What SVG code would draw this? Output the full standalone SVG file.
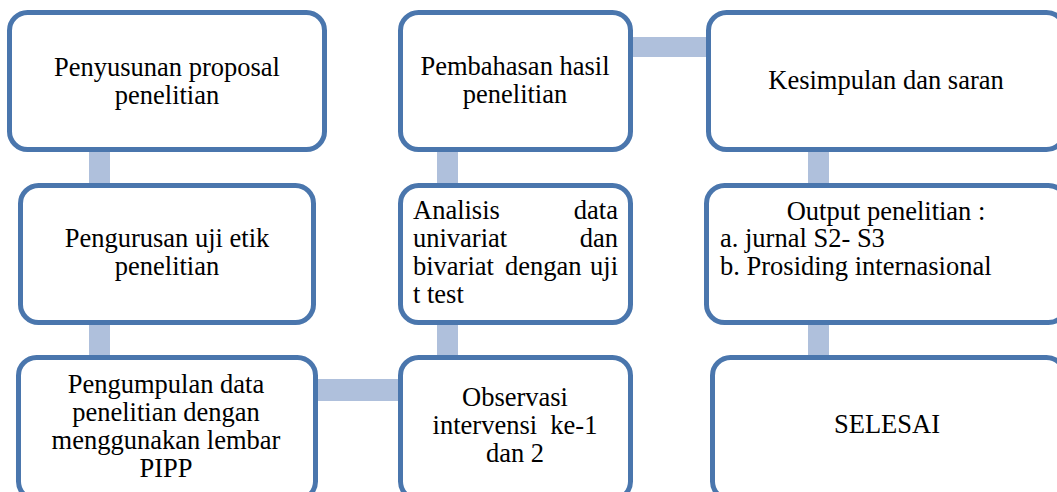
<svg xmlns="http://www.w3.org/2000/svg" width="1057" height="492" viewBox="0 0 1057 492">
<style>
.box{fill:#ffffff;stroke:#4a76ad;stroke-width:5}
.con{fill:#afc0dc}
text{font-family:"Liberation Serif","Times New Roman",serif;font-size:26.5px;fill:#000}
.c{text-anchor:middle}
.e{text-anchor:end}
</style>
<rect width="1057" height="492" fill="#ffffff"/>
<g id="connectors">
<rect class="con" x="89" y="150" width="21" height="36"/>
<rect class="con" x="89" y="320" width="21" height="40"/>
<rect class="con" x="314" y="379" width="88" height="22"/>
<rect class="con" x="437" y="320" width="21" height="40"/>
<rect class="con" x="437" y="150" width="21" height="36"/>
<rect class="con" x="630" y="37" width="80" height="20"/>
<rect class="con" x="808" y="150" width="21" height="36"/>
<rect class="con" x="808" y="320" width="21" height="40"/>
</g>
<g id="n1">
<rect class="box" x="9.5" y="12.5" width="315" height="137" rx="18"/>
<text class="c" x="167" y="76">Penyusunan proposal</text>
<text class="c" x="167" y="104">penelitian</text>
</g>
<g id="n2">
<rect class="box" x="20.5" y="185.5" width="293" height="137" rx="18"/>
<text class="c" x="167" y="247">Pengurusan uji etik</text>
<text class="c" x="167" y="275">penelitian</text>
</g>
<g id="n3">
<rect class="box" x="18.5" y="357.5" width="297" height="142" rx="18"/>
<text class="c" x="166" y="393">Pengumpulan data</text>
<text class="c" x="166" y="421">penelitian dengan</text>
<text class="c" x="166" y="449">menggunakan lembar</text>
<text class="c" x="166" y="477">PIPP</text>
</g>
<g id="n4">
<rect class="box" x="400.5" y="357.5" width="230" height="142" rx="18"/>
<text class="c" x="515" y="406">Observasi</text>
<text class="c" x="515" y="434" xml:space="preserve">intervensi  ke-1</text>
<text class="c" x="515" y="462">dan 2</text>
</g>
<g id="n5">
<rect class="box" x="400.5" y="185.5" width="230" height="137" rx="18"/>
<text x="413" y="219">Analisis</text>
<text class="e" x="618" y="219">data</text>
<text x="413" y="247">univariat</text>
<text class="e" x="618" y="247">dan</text>
<text x="413" y="275">bivariat</text>
<text x="505" y="275">dengan</text>
<text class="e" x="618" y="275">uji</text>
<text x="413" y="303">t test</text>
</g>
<g id="n6">
<rect class="box" x="400.5" y="12.5" width="230" height="137" rx="18"/>
<text class="c" x="515" y="75">Pembahasan hasil</text>
<text class="c" x="515" y="103">penelitian</text>
</g>
<g id="n7">
<rect class="box" x="708.5" y="12.5" width="356" height="137" rx="18"/>
<text class="c" x="886" y="89">Kesimpulan dan saran</text>
</g>
<g id="n8">
<rect class="box" x="706.5" y="185.5" width="360" height="137" rx="18"/>
<text class="c" x="886" y="220">Output penelitian :</text>
<text x="720" y="247">a. jurnal S2- S3</text>
<text x="720" y="275">b. Prosiding internasional</text>
</g>
<g id="n9">
<rect class="box" x="712.5" y="357.5" width="352" height="142" rx="18"/>
<text class="c" x="887" y="433">SELESAI</text>
</g>
</svg>
